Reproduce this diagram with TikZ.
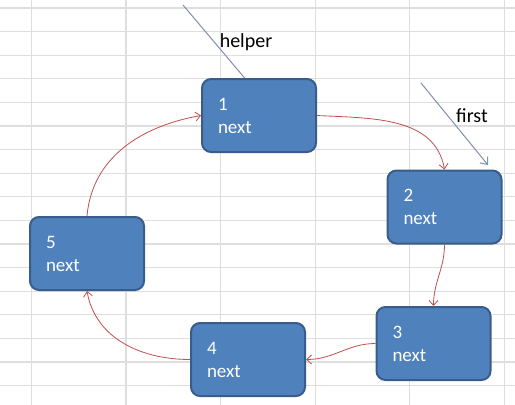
\documentclass[tikz,border=0pt]{standalone}
\usepackage{fontspec}
\setmainfont{Carlito}
\usetikzlibrary{arrows.meta}
\definecolor{boxblue}{RGB}{79,129,189}
\definecolor{boxedge}{RGB}{56,93,138}
\definecolor{linkred}{RGB}{192,80,77}
\definecolor{ptrgray}{RGB}{128,144,170}
\definecolor{gridgray}{RGB}{222,222,222}
\begin{document}
\begin{tikzpicture}[x=1pt,y=-1pt,
  elem/.style={draw=boxedge, line width=2pt, fill=boxblue, rounded corners=9pt,
    text=white, align=left, text width=82pt, inner xsep=16pt, inner ysep=0pt,
    minimum height=73pt, font=\fontsize{19}{23}\selectfont},
  link/.style={draw=linkred, line width=0.8pt, -{Straight Barb[length=5pt,width=9pt]}},
  ptr/.style={draw=ptrgray, line width=1pt},
  gridline/.style={draw=gridgray, line width=1.2pt},
  lbl/.style={font=\fontsize{20}{24}\selectfont}]
\useasboundingbox[fill=white] (0,0) rectangle (515,405);

% sheet grid
\foreach \k in {0,...,16} \path[gridline] (0,{8+23.6*\k}) -- (515,{8+23.6*\k});
\foreach \k in {0,...,5} \path[gridline] ({31.3+94.6*\k},0) -- ({31.3+94.6*\k},405);

\node[elem] (1) at (259,115.5) {1\\next};
\node[elem] (2) at (444.5,207) {2\\next};
\node[elem] (3) at (433.5,343.5) {3\\next};
\node[elem] (4) at (248,359.5) {4\\next};
\node[elem] (5) at (87,253.5) {5\\next};

\node[lbl] (helper) at (246,42) {helper};
\node[lbl] (first) at (472,116) {first};

% pointers
\coordinate (h0) at (183,5);
\coordinate (f0) at (421,83);
\coordinate (f1) at (488,165);
\path[ptr] (h0) -- (1.111);
\path[ptr,-{Straight Barb[length=6pt,width=10pt]}] (f0) -- (f1);

% ring links
\path[link] (1.east) to[out=-3,in=100] (2.north);
\path[link] (2.south) to[out=-90,in=90] (3.north);
\path[link] (3.west) to[out=180,in=0] (4.east);
\path[link] (4.west) to[out=180,in=-80] (5.south);
\path[link] (5.north) to[out=85,in=190] (1.west);
\end{tikzpicture}
\end{document}
